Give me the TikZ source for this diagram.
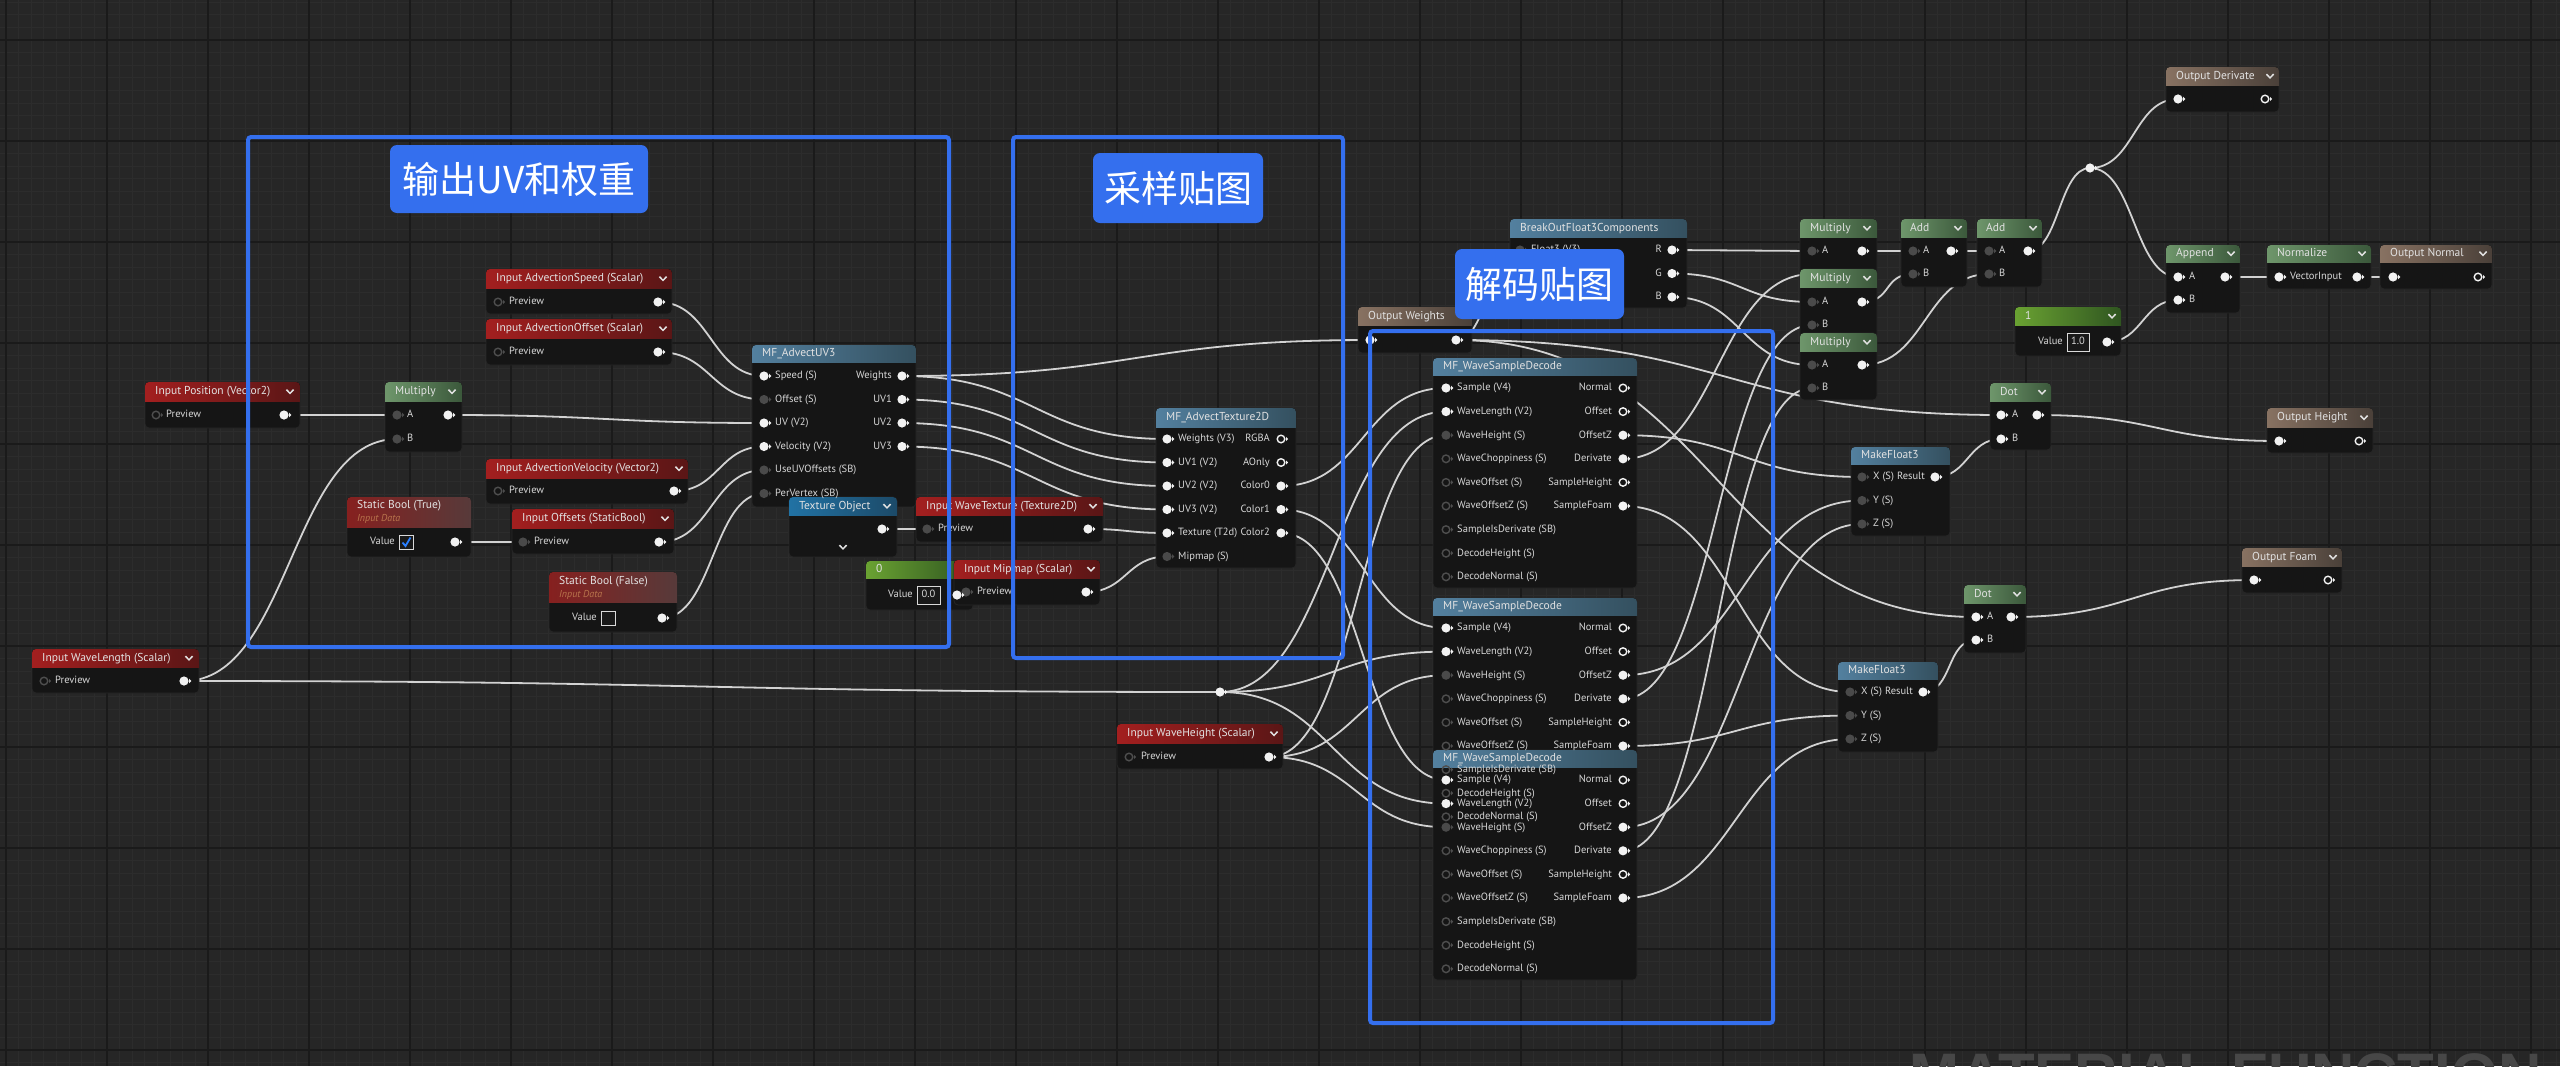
\documentclass[tikz,border=0pt]{standalone}
\usepackage{fontspec}
\setmainfont{PT Sans}
\newfontfamily\cjkf{Noto Sans CJK SC}
\newfontfamily\wmf{Liberation Sans}
\usetikzlibrary{calc}
\definecolor{bgc}{HTML}{262626}
\definecolor{minorc}{HTML}{2C2C2C}
\definecolor{majorc}{HTML}{1A1A1A}
\definecolor{bodyc}{HTML}{151515}
\definecolor{wirec}{HTML}{D2D2D2}
\definecolor{pinc}{HTML}{F2F2F2}
\definecolor{pingray}{HTML}{4A4A4A}
\definecolor{pinhol}{HTML}{4E4E4E}
\definecolor{txtc}{HTML}{D8D8D8}
\definecolor{hdrtxt}{HTML}{E2E2E2}
\definecolor{boxblue}{HTML}{346FEE}
\definecolor{redL}{HTML}{A31F1F}\definecolor{redR}{HTML}{5A1616}
\definecolor{sbL}{HTML}{86201F}\definecolor{sbR}{HTML}{573A3A}
\definecolor{grnL}{HTML}{6E966B}\definecolor{grnR}{HTML}{3B583B}
\definecolor{bluL}{HTML}{53809F}\definecolor{bluR}{HTML}{34505F}
\definecolor{brnL}{HTML}{887262}\definecolor{brnR}{HTML}{4A4039}
\definecolor{texL}{HTML}{2172A4}\definecolor{texR}{HTML}{1C4A68}
\definecolor{cgrL}{HTML}{6AA232}\definecolor{cgrR}{HTML}{2F5520}
\definecolor{wmc}{HTML}{474747}
\definecolor{idatac}{HTML}{B8744C}
\definecolor{checkc}{HTML}{2A7FFF}
\tikzset{
  wire/.style={draw=wirec, line width=1.8pt},
  nodebody/.style={rectangle, rounded corners=4pt, fill=bodyc, draw=black!85, line width=0.8pt, inner sep=0pt, outer sep=0pt},
  hdr/.style={font=\fontsize{11.5}{13}\selectfont, text=hdrtxt, inner sep=0pt, anchor=west, text height=8.2pt, text depth=2.2pt},
  lbl/.style={font=\fontsize{10.5}{12}\selectfont, text=txtc, inner sep=0pt, text height=7.6pt, text depth=2pt},
  idata/.style={font=\fontsize{10}{12}\selectfont\itshape, text=idatac, inner sep=0pt, anchor=west},
  chevc/.style={draw=hdrtxt, line width=1.5pt},
  blubox/.style={draw=boxblue, line width=4pt, rounded corners=3pt},
  blulab/.style={fill=boxblue, rounded corners=7pt},
  cjklab/.style={text=white, font=\cjkf\fontsize{37}{40}\selectfont, inner sep=0pt},
  valbox/.style={draw=black!15, line width=0.9pt, fill=black!90},
}
\newcounter{tc}
\newcommand\uehd[3]{\stepcounter{tc}\node[hdr] (h\arabic{tc}) at (#1,#2) {#3};}
\newcommand\uetl[3]{\stepcounter{tc}\node[lbl,anchor=west] (l\arabic{tc}) at (#1,#2) {#3};}
\newcommand\uetr[3]{\stepcounter{tc}\node[lbl,anchor=east] (r\arabic{tc}) at (#1,#2) {#3};}
\newcommand\pW[1]{\fill[pinc] #1 circle (4.6pt); \fill[pinc] ($#1+(5.0,-2.4)$) -- ++(2.4,2.4) -- ++(-2.4,2.4) -- cycle;}
\newcommand\pG[1]{\fill[pingray] #1 circle (4.6pt); \fill[pingray] ($#1+(5.0,-2.4)$) -- ++(2.4,2.4) -- ++(-2.4,2.4) -- cycle;}
\newcommand\pH[1]{\draw[pinhol, line width=1.4pt] #1 circle (3.8pt); \fill[pinhol] ($#1+(5.0,-2.2)$) -- ++(2.2,2.2) -- ++(-2.2,2.2) -- cycle;}
\newcommand\pO[1]{\draw[pinc, line width=1.4pt] #1 circle (3.8pt); \fill[pinc] ($#1+(5.0,-2.2)$) -- ++(2.2,2.2) -- ++(-2.2,2.2) -- cycle;}
\newcommand\chev[2]{\draw[chevc] (#1-3.6,#2-1.9) -- (#1,#2+1.9) -- (#1+3.6,#2-1.9);}
\newcommand\wire[2]{\draw[wire] let \p1=(#1), \p2=(#2), \n1={max(abs(\x2-\x1)*0.5,30)} in (#1) .. controls +({\n1},0) and +({-\n1},0) .. (#2);}
\newcommand\uenode[8]{%
  \node[nodebody, anchor=north west, minimum width={(#4-#2)*1pt}, minimum height={(#5-#3)*1pt}] (#1) at (#2,#3) {};
  \begin{scope}
    \clip[rounded corners=4pt] (#2,#3) rectangle (#4,#5);
    \fill[left color=#7, right color=#8] (#2,#3) rectangle (#4,#6);
  \end{scope}}
\newcommand\decdetail[1]{%
  \uehd{1443}{#1+8.5}{MF\_WaveSampleDecode}
  \foreach \lab [count=\k from 0] in {Sample (V4),WaveLength (V2),WaveHeight (S),WaveChoppiness (S),WaveOffset (S),WaveOffsetZ (S),SampleIsDerivate (SB),DecodeHeight (S),DecodeNormal (S)}{\uetl{1457}{#1+30+23.6*\k}{\lab}}
  \foreach \lab [count=\k from 0] in {Normal,Offset,OffsetZ,Derivate,SampleHeight,SampleFoam}{\uetr{1612}{#1+30+23.6*\k}{\lab}}
  \pW{(1446,#1+30)} \pW{(1446,#1+53.6)} \pG{(1446,#1+77.2)}
  \foreach \k in {3,...,8}{\pH{(1446,#1+30+23.6*\k)}}
  \pO{(1623,#1+30)} \pO{(1623,#1+53.6)} \pW{(1623,#1+77.2)} \pW{(1623,#1+100.8)} \pO{(1623,#1+124.4)} \pW{(1623,#1+148)}
}
\begin{document}
\begin{tikzpicture}[x=1pt,y=-1pt]
\useasboundingbox (0,0) rectangle (2560,1066);
\clip (0,0) rectangle (2560,1066);
\fill[bgc] (0,0) rectangle (2560,1066);
\foreach \k in {0,...,210} \draw[minorc, line width=1pt] ({-95+\k*12.625},0) -- ++(0,1066);
\foreach \k in {0,...,90} \draw[minorc, line width=1pt] (0,{-61+\k*12.625}) -- ++(2560,0);
\foreach \k in {0,...,25} \draw[majorc, line width=2pt] ({6+101*\k},0) -- ++(0,1066);
\foreach \k in {0,...,10} \draw[majorc, line width=2pt] (0,{40+101*\k}) -- ++(2560,0);
\node[anchor=base west, text=wmc, font=\wmf\bfseries\fontsize{60}{60}\selectfont, inner sep=0pt] (wm) at (1909,1095) {MATERIAL FUNCTION};

% ---------- pin coordinates ----------
\coordinate (inpos-o) at (284,415);
\coordinate (mulL-a) at (397,415);
\coordinate (mulL-b) at (397,439);
\coordinate (mulL-o) at (448,415);
\coordinate (wl-o) at (184,681);
\coordinate (sbt-o) at (455,542);
\coordinate (spd-o) at (658,302);
\coordinate (aof-o) at (658,352);
\coordinate (vel-o) at (674,491);
\coordinate (ofs-i) at (523,542);
\coordinate (ofs-o) at (659,542);
\coordinate (sbf-o) at (662,618);
\coordinate (uv3-sp) at (764,376);
\coordinate (uv3-of) at (764,399.5);
\coordinate (uv3-uv) at (764,423);
\coordinate (uv3-ve) at (764,446.5);
\coordinate (uv3-us) at (764,470);
\coordinate (uv3-pv) at (764,493.5);
\coordinate (uv3-w) at (902,376);
\coordinate (uv3-1) at (902,399.5);
\coordinate (uv3-2) at (902,423);
\coordinate (uv3-3) at (902,446.5);
\coordinate (tob-o) at (882,529);
\coordinate (wt-i) at (927,529);
\coordinate (wt-o) at (1088,529);
\coordinate (c0-o) at (957,595);
\coordinate (mip-i) at (966,592);
\coordinate (mip-o) at (1086,592);
\coordinate (tx-w) at (1167,439);
\coordinate (tx-1) at (1167,462.5);
\coordinate (tx-2) at (1167,486);
\coordinate (tx-3) at (1167,509.5);
\coordinate (tx-t) at (1167,533);
\coordinate (tx-m) at (1167,556.5);
\coordinate (tx-c0) at (1281,486);
\coordinate (tx-c1) at (1281,509.5);
\coordinate (tx-c2) at (1281,533);
\coordinate (ow-i) at (1370,340);
\coordinate (ow-o) at (1456,340);
\coordinate (bo-i) at (1520,250);
\coordinate (bo-r) at (1672,250);
\coordinate (bo-g) at (1672,273.5);
\coordinate (bo-b) at (1672,297);
\coordinate (rr1) at (1220,692);
\coordinate (wh-o) at (1269,757);
\coordinate (d1-s) at (1446,388);
\coordinate (d1-wl) at (1446,411.6);
\coordinate (d1-wh) at (1446,435.2);
\coordinate (d1-oz) at (1623,435.2);
\coordinate (d1-dv) at (1623,458.8);
\coordinate (d1-sf) at (1623,506);
\coordinate (d2-s) at (1446,628);
\coordinate (d2-wl) at (1446,651.6);
\coordinate (d2-wh) at (1446,675.2);
\coordinate (d2-oz) at (1623,675.2);
\coordinate (d2-dv) at (1623,698.8);
\coordinate (d2-sf) at (1623,746);
\coordinate (d3-s) at (1446,780);
\coordinate (d3-wl) at (1446,803.6);
\coordinate (d3-wh) at (1446,827.2);
\coordinate (d3-oz) at (1623,827.2);
\coordinate (d3-dv) at (1623,850.8);
\coordinate (d3-sf) at (1623,898);
\coordinate (m1-a) at (1812,251);
\coordinate (m1-b) at (1812,274);
\coordinate (m1-o) at (1862,251);
\coordinate (m2-a) at (1812,302);
\coordinate (m2-b) at (1812,325);
\coordinate (m2-o) at (1862,302);
\coordinate (m3-a) at (1812,365);
\coordinate (m3-b) at (1812,388);
\coordinate (m3-o) at (1862,365);
\coordinate (a1-a) at (1913,251);
\coordinate (a1-b) at (1913,274);
\coordinate (a1-o) at (1951,251);
\coordinate (a2-a) at (1989,251);
\coordinate (a2-b) at (1989,274);
\coordinate (a2-o) at (2028,251);
\coordinate (rr2) at (2090,168);
\coordinate (od-i) at (2178,99);
\coordinate (ap-a) at (2178,277);
\coordinate (ap-b) at (2178,300);
\coordinate (ap-o) at (2225,277);
\coordinate (nz-i) at (2279,277);
\coordinate (nz-o) at (2357,277);
\coordinate (on-i) at (2393,277);
\coordinate (c1-o) at (2107,342);
\coordinate (dt1-a) at (2001,415);
\coordinate (dt1-b) at (2001,439);
\coordinate (dt1-o) at (2037,415);
\coordinate (oh-i) at (2279,441);
\coordinate (mf1-x) at (1862,477);
\coordinate (mf1-y) at (1862,500.5);
\coordinate (mf1-z) at (1862,524);
\coordinate (mf1-o) at (1935,477);
\coordinate (of-i) at (2254,580);
\coordinate (dt2-a) at (1976,617);
\coordinate (dt2-b) at (1976,640);
\coordinate (dt2-o) at (2011,617);
\coordinate (mf2-x) at (1850,692);
\coordinate (mf2-y) at (1850,715.5);
\coordinate (mf2-z) at (1850,739);
\coordinate (mf2-o) at (1923,692);

% ---------- wires ----------
\wire{inpos-o}{mulL-a}
\wire{wl-o}{mulL-b}
\wire{wl-o}{rr1}
\wire{mulL-o}{uv3-uv}
\wire{spd-o}{uv3-sp}
\wire{aof-o}{uv3-of}
\wire{vel-o}{uv3-ve}
\wire{ofs-o}{uv3-us}
\wire{sbf-o}{uv3-pv}
\wire{sbt-o}{ofs-i}
\wire{uv3-w}{ow-i}
\wire{uv3-w}{tx-w}
\wire{uv3-1}{tx-1}
\wire{uv3-2}{tx-2}
\wire{uv3-3}{tx-3}
\wire{tob-o}{wt-i}
\wire{wt-o}{tx-t}
\wire{c0-o}{mip-i}
\wire{mip-o}{tx-m}
\wire{tx-c0}{d1-s}
\wire{tx-c1}{d2-s}
\wire{tx-c2}{d3-s}
\wire{rr1}{d1-wl}
\wire{rr1}{d2-wl}
\wire{rr1}{d3-wl}
\wire{wh-o}{d1-wh}
\wire{wh-o}{d2-wh}
\wire{wh-o}{d3-wh}
\wire{ow-o}{bo-i}
\wire{ow-o}{dt1-a}
\wire{ow-o}{dt2-a}
\wire{bo-r}{m1-a}
\wire{bo-g}{m2-a}
\wire{bo-b}{m3-a}
\wire{d1-dv}{m1-b}
\wire{d2-dv}{m2-b}
\wire{d3-dv}{m3-b}
\wire{d1-oz}{mf1-x}
\wire{d2-oz}{mf1-y}
\wire{d3-oz}{mf1-z}
\wire{d1-sf}{mf2-x}
\wire{d2-sf}{mf2-y}
\wire{d3-sf}{mf2-z}
\wire{m1-o}{a1-a}
\wire{m2-o}{a1-b}
\wire{a1-o}{a2-a}
\wire{m3-o}{a2-b}
\wire{a2-o}{rr2}
\wire{rr2}{od-i}
\wire{rr2}{ap-a}
\wire{c1-o}{ap-b}
\wire{ap-o}{nz-i}
\wire{nz-o}{on-i}
\wire{mf1-o}{dt1-b}
\wire{dt1-o}{oh-i}
\wire{mf2-o}{dt2-b}
\wire{dt2-o}{of-i}

% ---------- node bodies ----------
\uenode{inpos}{145}{382}{300}{428}{401}{redL}{redR}
\uenode{mulL}{385}{382}{462}{452}{401}{grnL}{grnR}
\uenode{wavelen}{32}{649}{199}{693}{667}{redL}{redR}
\uenode{sbtrue}{347}{497}{471}{557}{527}{sbL}{sbR}
\uenode{advspeed}{486}{269}{672}{314}{288}{redL}{redR}
\uenode{advoff}{486}{319}{672}{365}{338}{redL}{redR}
\uenode{advvel}{486}{459}{688}{504}{478}{redL}{redR}
\uenode{inoffs}{512}{509}{674}{554}{528}{redL}{redR}
\uenode{sbfalse}{549}{572}{677}{632}{602}{sbL}{sbR}
\uenode{advuv3}{752}{345}{916}{507}{362}{bluL}{bluR}
\uenode{texobj}{789}{497}{897}{557}{515}{texL}{texR}
\uenode{wavetex}{916}{497}{1103}{542}{515}{redL}{redR}
\uenode{const0}{866}{561}{973}{610}{578}{cgrL}{cgrR}
\uenode{mipmap}{954}{560}{1100}{605}{578}{redL}{redR}
\uenode{advtex}{1156}{408}{1296}{568}{427}{bluL}{bluR}
\uenode{wavehgt}{1117}{724}{1283}{769}{743}{redL}{redR}
\uenode{outw}{1358}{307}{1472}{353}{325}{brnL}{brnR}
\uenode{breakout}{1510}{219}{1687}{308}{237}{bluL}{bluR}
\uenode{dec1}{1433}{358}{1637}{588}{375}{bluL}{bluR}
\uenode{dec2}{1433}{598}{1637}{828}{615}{bluL}{bluR}
\uenode{dec3}{1433}{750}{1637}{980}{767}{bluL}{bluR}
\uenode{mul1}{1800}{219}{1877}{290}{237}{grnL}{grnR}
\uenode{mul2}{1800}{269}{1877}{338}{287}{grnL}{grnR}
\uenode{mul3}{1800}{333}{1877}{400}{351}{grnL}{grnR}
\uenode{add1}{1901}{219}{1967}{287}{237}{grnL}{grnR}
\uenode{add2}{1977}{219}{2042}{287}{237}{grnL}{grnR}
\uenode{outderiv}{2166}{67}{2279}{112}{85}{brnL}{brnR}
\uenode{append}{2166}{245}{2240}{313}{262}{grnL}{grnR}
\uenode{normalize}{2267}{245}{2371}{289}{262}{grnL}{grnR}
\uenode{outnormal}{2380}{245}{2492}{289}{262}{brnL}{brnR}
\uenode{const1}{2015}{307}{2121}{356}{325}{cgrL}{cgrR}
\uenode{dot1}{1990}{383}{2051}{450}{401}{grnL}{grnR}
\uenode{outheight}{2267}{408}{2373}{453}{427}{brnL}{brnR}
\uenode{mf3a}{1851}{447}{1950}{536}{464}{bluL}{bluR}
\uenode{outfoam}{2242}{548}{2342}{593}{566}{brnL}{brnR}
\uenode{dot2}{1964}{585}{2026}{653}{603}{grnL}{grnR}
\uenode{mf3b}{1838}{662}{1938}{752}{679}{bluL}{bluR}

% ---------- texts and pins ----------
\uehd{155}{391.5}{Input Position (Vector2)} \chev{290}{391.5}
\pH{(156,415)} \uetl{166}{415}{Preview} \pW{(inpos-o)}
\uehd{395}{391.5}{Multiply} \chev{452}{391.5}
\pG{(mulL-a)} \uetl{407}{415}{A} \pG{(mulL-b)} \uetl{407}{439}{B} \pW{(mulL-o)}
\uehd{42}{658}{Input WaveLength (Scalar)} \chev{189}{658}
\pH{(44,681)} \uetl{55}{681}{Preview} \pW{(wl-o)}
\uehd{357}{505}{Static Bool (True)} \node[idata] (sbtd) at (357,519) {Input Data};
\uetr{395}{542}{Value} \draw[valbox] (399.5,535) rectangle (413.5,549);
\draw[checkc, line width=1.8pt] (402.5,542.5) -- (405.5,546) -- (410.5,537.5);
\pW{(sbt-o)}
\uehd{496}{278.5}{Input AdvectionSpeed (Scalar)} \chev{663}{278.5}
\pH{(498,302)} \uetl{509}{302}{Preview} \pW{(spd-o)}
\uehd{496}{328.5}{Input AdvectionOffset (Scalar)} \chev{663}{328.5}
\pH{(498,352)} \uetl{509}{352}{Preview} \pW{(aof-o)}
\uehd{496}{468.5}{Input AdvectionVelocity (Vector2)} \chev{679}{468.5}
\pH{(498,491)} \uetl{509}{491}{Preview} \pW{(vel-o)}
\uehd{522}{518.5}{Input Offsets (StaticBool)} \chev{665}{518.5}
\pG{(ofs-i)} \uetl{534}{542}{Preview} \pW{(ofs-o)}
\uehd{559}{581}{Static Bool (False)} \node[idata] (sbfd) at (559,595) {Input Data};
\uetr{597}{618}{Value} \draw[valbox] (601.5,611) rectangle (615.5,625);
\pW{(sbf-o)}
\uehd{762}{353.5}{MF\_AdvectUV3}
\pW{(uv3-sp)} \uetl{775}{376}{Speed (S)}
\pG{(uv3-of)} \uetl{775}{399.5}{Offset (S)}
\pW{(uv3-uv)} \uetl{775}{423}{UV (V2)}
\pW{(uv3-ve)} \uetl{775}{446.5}{Velocity (V2)}
\pG{(uv3-us)} \uetl{775}{470}{UseUVOffsets (SB)}
\pG{(uv3-pv)} \uetl{775}{493.5}{PerVertex (SB)}
\uetr{892}{376}{Weights} \pW{(uv3-w)}
\uetr{892}{399.5}{UV1} \pW{(uv3-1)}
\uetr{892}{423}{UV2} \pW{(uv3-2)}
\uetr{892}{446.5}{UV3} \pW{(uv3-3)}
\uehd{799}{506}{Texture Object} \chev{887}{506} \chev{843}{547}
\pW{(tob-o)}
\uehd{926}{506}{Input WaveTexture (Texture2D)} \chev{1093}{506}
\pG{(wt-i)} \uetl{938}{529}{Preview} \pW{(wt-o)}
\uehd{876}{569.5}{0}
\uetr{913}{595}{Value} \draw[valbox] (917,586) rectangle (940,604);
\node[lbl] (c0v) at (928.5,595) {0.0};
\uehd{964}{569}{Input Mipmap (Scalar)} \chev{1091}{569}
\pG{(mip-i)} \uetl{977}{592}{Preview} \pW{(mip-o)} \pW{(c0-o)}
\uehd{1166}{417.5}{MF\_AdvectTexture2D}
\pW{(tx-w)} \uetl{1178}{439}{Weights (V3)}
\pW{(tx-1)} \uetl{1178}{462.5}{UV1 (V2)}
\pW{(tx-2)} \uetl{1178}{486}{UV2 (V2)}
\pW{(tx-3)} \uetl{1178}{509.5}{UV3 (V2)}
\pW{(tx-t)} \uetl{1178}{533}{Texture (T2d)}
\pG{(tx-m)} \uetl{1178}{556.5}{Mipmap (S)}
\uetr{1270}{439}{RGBA} \pO{(1281,439)}
\uetr{1270}{462.5}{AOnly} \pO{(1281,462.5)}
\uetr{1270}{486}{Color0} \pW{(tx-c0)}
\uetr{1270}{509.5}{Color1} \pW{(tx-c1)}
\uetr{1270}{533}{Color2} \pW{(tx-c2)}
\uehd{1127}{733.5}{Input WaveHeight (Scalar)} \chev{1274}{733.5}
\pH{(1129,757)} \uetl{1141}{757}{Preview} \pW{(wh-o)}
\uehd{1368}{316}{Output Weights}
\pW{(ow-i)} \pW{(ow-o)}
\uehd{1520}{228}{BreakOutFloat3Components}
\pG{(bo-i)} \uetl{1531}{250}{Float3 (V3)}
\uetr{1662}{250}{R} \pW{(bo-r)}
\uetr{1662}{273.5}{G} \pW{(bo-g)}
\uetr{1662}{297}{B} \pW{(bo-b)}
\decdetail{358}
\decdetail{598}
\decdetail{750}
\uehd{1810}{228}{Multiply} \chev{1867}{228}
\pG{(m1-a)} \uetl{1822}{251}{A} \pW{(m1-o)}
\uehd{1810}{278}{Multiply} \chev{1867}{278}
\pG{(m2-a)} \uetl{1822}{302}{A} \pG{(m2-b)} \uetl{1822}{325}{B} \pW{(m2-o)}
\uehd{1810}{342}{Multiply} \chev{1867}{342}
\pG{(m3-a)} \uetl{1822}{365}{A} \pG{(m3-b)} \uetl{1822}{388}{B} \pW{(m3-o)}
\uehd{1910}{228}{Add} \chev{1958}{228}
\pG{(a1-a)} \uetl{1923}{251}{A} \pG{(a1-b)} \uetl{1923}{274}{B} \pW{(a1-o)}
\uehd{1986}{228}{Add} \chev{2033}{228}
\pG{(a2-a)} \uetl{1999}{251}{A} \pG{(a2-b)} \uetl{1999}{274}{B} \pW{(a2-o)}
\uehd{2176}{76}{Output Derivate} \chev{2270}{76}
\pW{(od-i)} \pO{(2265,99)}
\uehd{2176}{253.5}{Append} \chev{2231}{253.5}
\pW{(ap-a)} \uetl{2189}{277}{A} \pW{(ap-b)} \uetl{2189}{300}{B} \pW{(ap-o)}
\uehd{2277}{253.5}{Normalize} \chev{2362}{253.5}
\pW{(nz-i)} \uetl{2290}{277}{VectorInput} \pW{(nz-o)}
\uehd{2390}{253.5}{Output Normal} \chev{2483}{253.5}
\pW{(on-i)} \pO{(2478,277)}
\uehd{2025}{316}{1} \chev{2112}{316}
\uetr{2063}{342}{Value} \draw[valbox] (2067,333) rectangle (2089,351);
\node[lbl] (c1v) at (2078,342) {1.0};
\pW{(c1-o)}
\uehd{2000}{392}{Dot} \chev{2042}{392}
\pW{(dt1-a)} \uetl{2012}{415}{A} \pW{(dt1-b)} \uetl{2012}{439}{B} \pW{(dt1-o)}
\uehd{2277}{417.5}{Output Height} \chev{2364}{417.5}
\pW{(oh-i)} \pO{(2359,441)}
\uehd{1861}{455.5}{MakeFloat3}
\pG{(mf1-x)} \uetl{1873}{477}{X (S)} \pG{(mf1-y)} \uetl{1873}{500.5}{Y (S)} \pG{(mf1-z)} \uetl{1873}{524}{Z (S)}
\uetr{1925}{477}{Result} \pW{(mf1-o)}
\uehd{2252}{557}{Output Foam} \chev{2333}{557}
\pW{(of-i)} \pO{(2328,580)}
\uehd{1974}{594}{Dot} \chev{2017}{594}
\pW{(dt2-a)} \uetl{1987}{617}{A} \pW{(dt2-b)} \uetl{1987}{640}{B} \pW{(dt2-o)}
\uehd{1848}{670.5}{MakeFloat3}
\pG{(mf2-x)} \uetl{1861}{692}{X (S)} \pG{(mf2-y)} \uetl{1861}{715.5}{Y (S)} \pG{(mf2-z)} \uetl{1861}{739}{Z (S)}
\uetr{1913}{692}{Result} \pW{(mf2-o)}
% reroute knots
\pW{(rr1)} \pW{(rr2)}

% ---------- comment boxes ----------
\draw[blubox] (248,137) rectangle (949,647);
\draw[blubox] (1013,137) rectangle (1343,658);
\draw[blubox] (1370,331) rectangle (1773,1023);
\fill[blulab] (390,145) rectangle (648,213);
\node[cjklab] (lab1) at (519,179) {输出UV和权重};
\fill[blulab] (1093,153) rectangle (1263,223);
\node[cjklab] (lab2) at (1178,188) {采样贴图};
\fill[blulab] (1455,249) rectangle (1624,319);
\node[cjklab] (lab3) at (1539.5,284) {解码贴图};
\end{tikzpicture}
\end{document}
